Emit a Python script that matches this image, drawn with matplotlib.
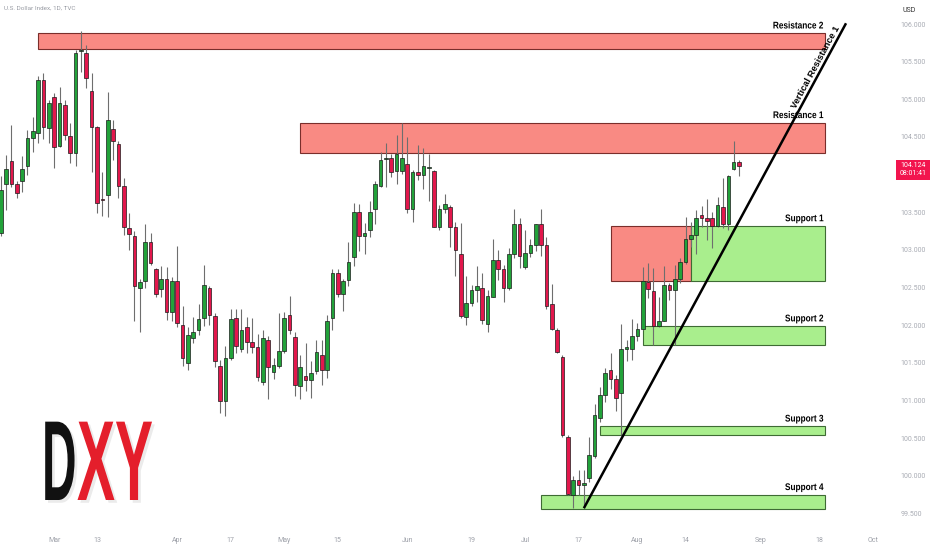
import numpy as np
import pandas as pd
import matplotlib
matplotlib.use("Agg")
import matplotlib.pyplot as plt
import matplotlib.patheffects as pe
from matplotlib.colors import to_rgba
from matplotlib.patches import Rectangle
from matplotlib.ticker import FormatStrFormatter
from matplotlib.transforms import Affine2D

plt.rcParams["font.family"] = ["Roboto", "DejaVu Sans"]

# daily OHLC (DXY, from 15 Feb 2023)
opens = [103.22, 103.88, 104.18, 103.87, 103.91, 104.12, 104.49, 104.55, 105.25, 104.62,
         105.03, 104.38, 104.92, 104.51, 104.29, 105.64, 105.61, 105.11, 104.63, 103.67,
         103.73, 104.61, 104.41, 103.85, 103.29, 103.18, 102.49, 102.59, 103.10, 102.74,
         102.48, 102.61, 102.18, 102.59, 102.00, 101.50, 101.83, 101.94, 102.09, 102.50,
         102.12, 101.46, 100.99, 101.57, 102.09, 101.69, 101.98, 101.78, 101.71, 101.25,
         101.80, 101.38, 101.46, 101.66, 102.13, 101.84, 101.19, 101.33, 101.27, 101.39,
         101.60, 101.41, 102.09, 102.70, 102.42, 102.60, 102.90, 103.50, 103.18, 103.26,
         103.54, 103.85, 104.21, 104.22, 104.05, 104.05, 104.14, 103.55, 104.03, 104.00,
         104.09, 104.05, 103.30, 103.54, 103.57, 103.31, 102.95, 102.11, 102.29, 102.47,
         102.49, 102.02, 102.38, 102.86, 102.74, 102.50, 102.95, 103.34, 102.77, 102.96,
         103.07, 103.34, 103.07, 102.28, 101.93, 101.58, 100.51, 99.75, 99.94, 99.88,
         99.97, 100.26, 100.77, 101.07, 101.41, 101.28, 101.10, 101.68, 101.69, 101.86,
         101.95, 102.58, 102.45, 101.99, 102.06, 102.53, 102.47, 102.61, 102.84, 103.14,
         103.20, 103.46, 103.42, 103.42, 103.32, 103.57, 103.35, 104.08, 104.17]
highs = [103.98, 104.26, 104.66, 103.91, 104.25, 104.59, 104.77, 105.31, 105.35, 104.99,
         105.08, 105.17, 104.99, 104.68, 105.65, 105.91, 105.72, 105.35, 104.64, 104.04,
         105.10, 104.73, 104.44, 103.95, 103.49, 103.25, 102.61, 103.34, 103.22, 102.76,
         102.78, 102.77, 102.64, 103.05, 102.26, 101.97, 102.11, 102.28, 102.80, 102.52,
         102.16, 101.54, 101.73, 102.21, 102.21, 102.21, 102.11, 102.10, 101.89, 101.94,
         101.86, 101.56, 102.16, 102.18, 102.39, 101.91, 101.60, 101.76, 101.52, 101.81,
         101.80, 102.14, 102.74, 102.74, 102.62, 103.10, 103.62, 103.61, 103.36, 103.65,
         103.91, 104.30, 104.42, 104.28, 104.53, 104.69, 104.50, 104.06, 104.39, 104.35,
         104.28, 104.06, 103.60, 103.74, 103.60, 103.37, 103.36, 102.65, 102.53, 102.78,
         102.69, 102.47, 103.15, 103.00, 102.80, 103.02, 103.54, 103.42, 103.26, 103.15,
         103.35, 103.55, 103.17, 102.55, 101.96, 101.60, 100.54, 100.00, 100.08, 100.08,
         100.52, 100.96, 101.18, 101.43, 101.63, 101.34, 102.02, 101.81, 102.08, 102.03,
         102.77, 102.83, 102.76, 102.37, 102.79, 102.56, 102.80, 102.89, 103.44, 103.37,
         103.53, 103.58, 103.67, 103.50, 103.70, 103.96, 104.00, 104.44, 104.20]
lows = [103.18, 103.53, 103.84, 103.69, 103.77, 104.00, 104.30, 104.42, 104.47, 104.42,
        104.09, 104.37, 104.46, 104.16, 104.11, 105.36, 105.15, 104.04, 103.49, 103.45,
        103.44, 104.20, 103.69, 103.20, 103.00, 102.06, 101.91, 102.50, 102.80, 102.37,
        102.37, 102.07, 102.05, 101.98, 101.46, 101.41, 101.76, 101.87, 101.99, 102.00,
        101.45, 100.84, 100.79, 101.54, 101.63, 101.65, 101.63, 101.63, 101.26, 101.21,
        101.02, 101.28, 101.43, 101.63, 101.88, 101.06, 101.02, 101.12, 101.04, 101.35,
        101.21, 101.30, 101.94, 102.38, 102.19, 102.52, 102.79, 102.99, 102.95, 103.17,
        103.35, 103.83, 103.84, 103.97, 103.88, 104.01, 103.49, 103.37, 103.93, 103.81,
        103.65, 103.30, 103.26, 103.49, 103.04, 102.65, 102.09, 102.00, 102.25, 102.31,
        102.02, 101.91, 102.37, 102.60, 102.31, 102.47, 102.89, 102.76, 102.74, 102.90,
        102.99, 102.92, 102.22, 101.93, 101.63, 100.51, 99.75, 99.57, 99.75, 99.57,
        99.92, 100.23, 100.71, 100.98, 101.15, 100.86, 100.54, 101.52, 101.54, 101.79,
        101.94, 102.36, 101.74, 101.97, 102.05, 102.33, 101.74, 102.56, 102.81, 103.04,
        102.95, 103.31, 103.13, 103.02, 103.31, 103.29, 103.26, 104.06, 103.98]
closes = [103.80, 104.08, 103.88, 103.75, 104.08, 104.48, 104.58, 105.25, 104.63, 104.95,
          104.37, 104.95, 104.52, 104.29, 105.61, 105.66, 105.28, 104.63, 103.62, 103.66,
          104.73, 104.44, 103.85, 103.30, 103.21, 102.52, 102.58, 103.10, 102.82, 102.41,
          102.62, 102.17, 102.59, 102.03, 101.56, 101.87, 101.91, 102.08, 102.53, 102.13,
          101.52, 100.99, 101.56, 102.08, 101.72, 101.93, 101.78, 101.71, 101.31, 101.83,
          101.44, 101.47, 101.66, 102.10, 101.93, 101.21, 101.44, 101.27, 101.37, 101.64,
          101.41, 102.06, 102.70, 102.41, 102.59, 102.84, 103.51, 103.18, 103.23, 103.50,
          103.88, 104.20, 104.22, 104.04, 104.28, 104.22, 103.55, 104.03, 103.99, 104.11,
          104.10, 103.31, 103.54, 103.61, 103.30, 103.00, 102.12, 102.29, 102.47, 102.52,
          102.07, 102.39, 102.86, 102.74, 102.50, 102.95, 103.34, 102.92, 102.96, 103.07,
          103.34, 103.07, 102.26, 101.95, 101.65, 100.54, 99.76, 99.94, 99.88, 99.91,
          100.28, 100.81, 101.07, 101.37, 101.29, 101.03, 101.68, 101.71, 101.86, 101.95,
          102.59, 102.48, 101.99, 102.06, 102.53, 102.47, 102.61, 102.84, 103.15, 103.20,
          103.43, 103.42, 103.39, 103.32, 103.59, 103.35, 103.98, 104.17, 104.12]

start_date = "2023-02-15"
last_price = "104.124"
countdown = "08:01:41"

tick_dates = ["2023-03-01", "2023-03-13", "2023-04-03", "2023-04-17", "2023-05-01",
              "2023-05-15", "2023-06-01", "2023-06-19", "2023-07-03", "2023-07-17",
              "2023-08-01", "2023-08-14", "2023-09-01", "2023-09-18", "2023-10-02"]
tick_labels = ["Mar", "13", "Apr", "17", "May", "15", "Jun", "19", "Jul", "17",
               "Aug", "14", "Sep", "18", "Oct"]

# supply / demand zones
zone_labels = ["Resistance 2", "Resistance 1", "", "Support 1", "Support 2", "Support 3", "Support 4"]
zone_kind = ["res", "res", "res", "sup", "sup", "sup", "sup"]
zone_start = ["2023-02-24", "2023-05-04", "2023-07-25", "2023-08-15", "2023-08-02", "2023-07-21", "2023-07-06"]
zone_end = ["2023-09-19", "2023-09-19", "2023-08-15", "2023-09-19", "2023-09-19", "2023-09-19", "2023-09-19"]
zone_low = [105.67, 104.29, 102.59, 102.59, 101.74, 100.54, 99.56]
zone_high = [105.88, 104.69, 103.32, 103.32, 101.99, 100.66, 99.75]

trend_dates = ["2023-07-18", "2023-09-25"]
trend_prices = [99.57, 106.01]

GREEN = "#22a23a"
RED = "#e2174c"
WICK = "#6e6e6e"
RES_FILL, RES_EDGE = "#f98a83", "#7a2e2b"
SUP_FILL, SUP_EDGE = "#a9ee8d", "#3e6b34"
LABEL_FONT = ["Liberation Sans Narrow", "Liberation Sans", "DejaVu Sans"]


class Squeeze(pe.AbstractPathEffect):
    """narrow the glyphs horizontally around x0 (display px)"""

    def __init__(self, sx, x0, offset=(0, 0), color=None, alpha=None):
        super().__init__(offset)
        self.sx, self.x0, self.color, self.alpha = sx, x0, color, alpha

    def draw_path(self, renderer, gc, tpath, affine, rgbFace=None):
        t = (affine + Affine2D().translate(-self.x0, 0).scale(self.sx, 1).translate(self.x0, 0)
             + self._offset_transform(renderer))
        if self.color is not None:
            gc0 = renderer.new_gc()
            gc0.copy_properties(gc)
            gc0.set_alpha(self.alpha)
            renderer.draw_path(gc0, tpath, t, to_rgba(self.color))
            gc0.restore()
        else:
            renderer.draw_path(gc, tpath, t, rgbFace)


days = pd.bdate_range(start_date, periods=170)
pos = lambda d: days.get_loc(pd.Timestamp(d))

fig = plt.figure(figsize=(9.32, 5.5), dpi=100)
ax = fig.add_axes([0, 22 / 550, 880 / 932, 528 / 550])
ax.set_xlim(-0.13, 164.35)
ax.set_ylim(99.307, 106.319)

o, h, l, c = map(np.array, (opens, highs, lows, closes))
x = np.arange(len(o))
up = c >= o
ax.vlines(x, l, h, color=WICK, lw=0.8, zorder=3)
ax.bar(x, np.maximum(np.abs(c - o), 0.012), bottom=np.minimum(o, c), width=0.68,
       color=np.where(up, GREEN, RED), edgecolor="#1b1b1b", linewidth=0.5, zorder=4)

for lab, kind, s, e, lo, hi in zip(zone_labels, zone_kind, zone_start, zone_end, zone_low, zone_high):
    fc, ec = (RES_FILL, RES_EDGE) if kind == "res" else (SUP_FILL, SUP_EDGE)
    ax.add_patch(Rectangle((pos(s), lo), pos(e) - pos(s), hi - lo, facecolor=fc,
                           edgecolor=ec, lw=0.8, zorder=1))
    if lab:
        xr = ax.transData.transform((pos(e), hi))[0] - 1
        ax.annotate(lab, xy=(pos(e), hi), xytext=(-0.7, 3.3), textcoords="offset points",
                    ha="right", va="baseline", fontsize=7, fontweight="bold",
                    family=LABEL_FONT, zorder=6, path_effects=[Squeeze(0.85, xr)])

tx = [pos(d) for d in trend_dates]
ax.plot(tx, trend_prices, color="black", lw=1.8, zorder=5, solid_capstyle="butt")

p = ax.transData.transform(list(zip(tx, trend_prices)))
ang = np.degrees(np.arctan2(p[1, 1] - p[0, 1], p[1, 0] - p[0, 0]))
ax.text(152.4, 105.43, "Vertical Resistance 1", rotation=ang, rotation_mode="anchor",
        ha="center", va="center", fontsize=6.7, fontweight="bold", family=LABEL_FONT, zorder=6)

for s in ax.spines.values():
    s.set_visible(False)
ax.yaxis.tick_right()
ax.set_yticks(np.arange(99.5, 106.01, 0.5))
ax.yaxis.set_major_formatter(FormatStrFormatter("%.3f"))
ax.tick_params(axis="y", length=0, pad=15, labelsize=5, labelcolor="#a9acb4")
ax.set_xticks([pos(d) for d in tick_dates])
ax.set_xticklabels(tick_labels)
ax.tick_params(axis="x", length=0, pad=6.8, labelsize=5, labelcolor="#9fa2aa")

fig.text(4 / 932, 1 - 8 / 550, "U.S. Dollar Index, 1D, TVC", fontsize=4.6,
         color="#999ca4", va="center")
fig.text(909 / 932, 1 - 10 / 550, "USD", fontsize=5, color="#333333", ha="center", va="center")

# last price tag
yp = ax.transData.transform((0, float(last_price)))[1] / fig.bbox.height
fig.add_artist(Rectangle((896 / 932, yp - 14.7 / 550), 34 / 932, 20 / 550,
                         transform=fig.transFigure, facecolor="#f2154e", edgecolor="none"))
fig.text(913 / 932, yp, last_price, fontsize=5, color="white", ha="center", va="center")
fig.text(913 / 932, yp - 8.6 / 550, countdown, fontsize=5, color="white", ha="center", va="center")

# DXY logo
for txt, x0, sx, col in [("D", 42, 0.42, "#111111"), ("XY", 77, 0.5, "#e41e2b")]:
    fig.text(x0 / 932, 50 / 550, txt, fontsize=82, fontweight="bold", color=col,
             family=["Liberation Sans", "DejaVu Sans"], va="baseline", ha="left",
             path_effects=[Squeeze(sx, x0, offset=(2, -2), color="black", alpha=0.08),
                           Squeeze(sx, x0)])

fig.savefig("out.png", dpi=100, facecolor="white")
